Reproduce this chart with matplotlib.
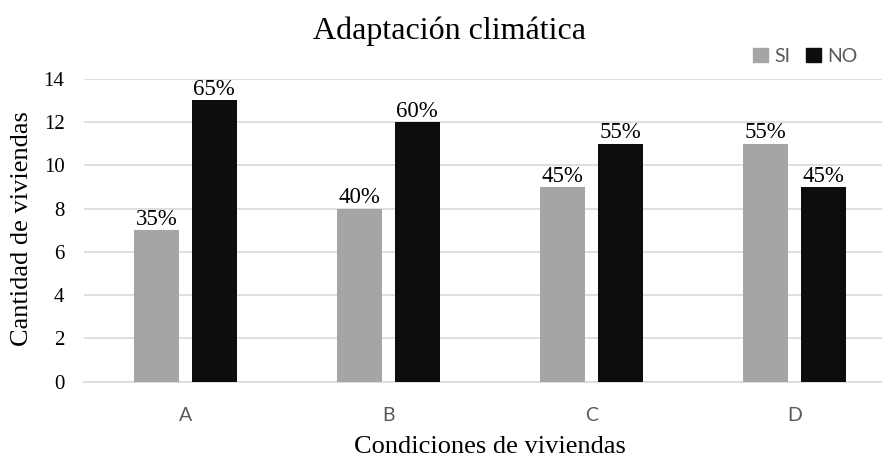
import numpy as np
import matplotlib.pyplot as plt
from matplotlib.patches import Patch

# datos
categorias = ['A', 'B', 'C', 'D']
si_valores = [7, 8, 9, 11]
no_valores = [13, 12, 11, 9]
si_pct = ['35%', '40%', '45%', '55%']
no_pct = ['65%', '60%', '55%', '45%']

serif = 'Liberation Serif'
sans = 'Lato'

fig = plt.figure(figsize=(8.82, 4.61), dpi=100)
ax = fig.add_axes([0.0952, 0.172, 0.9206, 0.657])

x = np.arange(len(categorias))
ancho = 0.222
sep = 0.03

b1 = ax.bar(x - sep - ancho/2, si_valores, ancho, color='#A5A5A5', zorder=3)
b2 = ax.bar(x + sep + ancho/2, no_valores, ancho, color='#0D0D0D', zorder=3)

for barras, etiquetas in [(b1, si_pct), (b2, no_pct)]:
    for b, t in zip(barras, etiquetas):
        ax.text(b.get_x() + b.get_width()/2, b.get_height() + 0.02, t,
                ha='center', va='bottom', fontsize=16.5, family=serif, color='black')

ax.set_xlim(-0.5, 3.5)
ax.set_ylim(0, 14)
ax.set_yticks(range(0, 15, 2))
ax.set_xticks(x)
ax.set_xticklabels(categorias, family=sans, fontsize=14, color='#595959')
for lbl in ax.get_yticklabels():
    lbl.set_family(serif)
    lbl.set_fontsize(15)
ax.tick_params(length=0)
ax.tick_params(axis='x', pad=18)
ax.tick_params(axis='y', pad=14)

ax.grid(axis='y', color='#D9D9D9', linewidth=1.2, zorder=0)
for s in ['top', 'right', 'left']:
    ax.spines[s].set_visible(False)
ax.spines['bottom'].set_color('#D9D9D9')
ax.spines['bottom'].set_linewidth(1.2)

ax.set_ylabel('Cantidad de viviendas', family=serif, fontsize=19)
ax.set_xlabel('Condiciones de viviendas', family=serif, fontsize=19)
ax.yaxis.set_label_coords(-0.063, 0.504)
ax.xaxis.set_label_coords(0.5, -0.178)

fig.text(0.51, 0.933, 'Adaptación climática', ha='center', va='center',
         family=serif, fontsize=23)

handles = [Patch(color='#A5A5A5', label='SI'), Patch(color='#0D0D0D', label='NO')]
fig.legend(handles=handles, loc='center', bbox_to_anchor=(0.913, 0.878), ncol=2,
           frameon=False, prop={'family': sans, 'size': 14}, labelcolor='#595959',
           handlelength=0.75, handleheight=0.75, handletextpad=0.35, columnspacing=0.8)

fig.savefig('out.png', dpi=100)
